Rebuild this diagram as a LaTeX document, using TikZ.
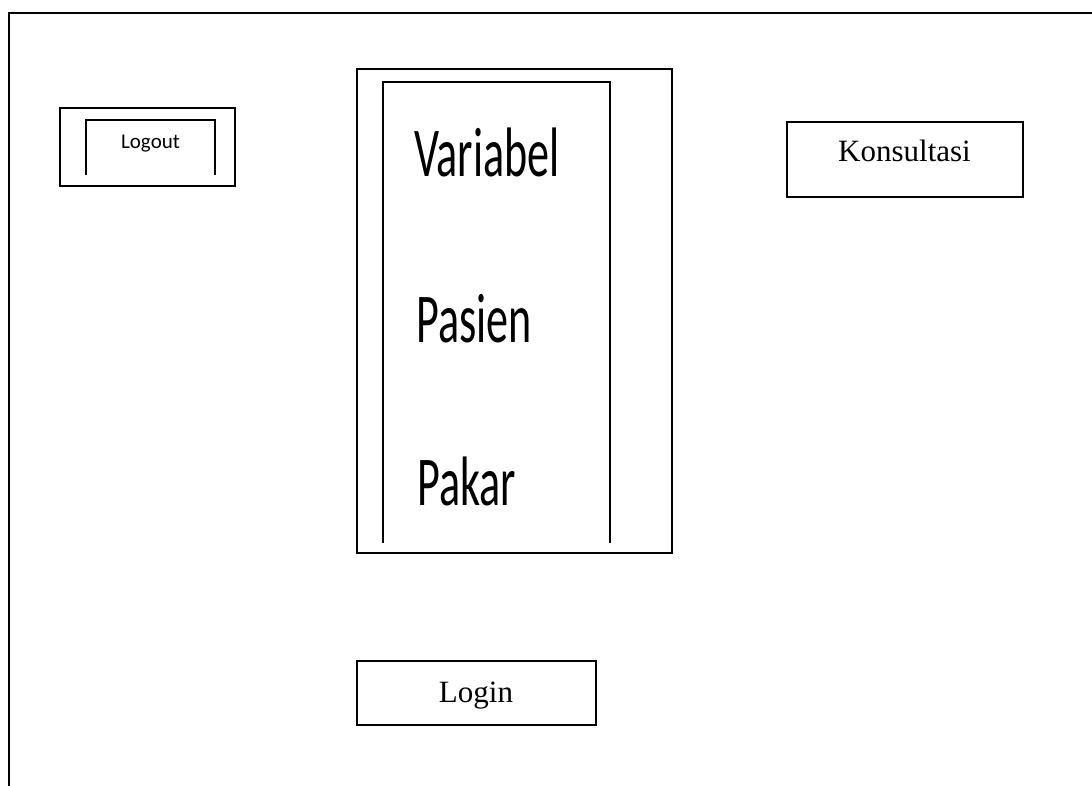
\documentclass[tikz,border=0pt]{standalone}
\usepackage{fontspec}
\usepackage{graphicx}
\setmainfont{Liberation Serif}
\newfontfamily\calibri{Carlito}
\begin{document}
\begin{tikzpicture}[x=1pt,y=-1pt,
  frame/.style={line width=1.8pt},
  panel/.style={draw,line width=1.6pt,inner sep=0pt,minimum width=#1},
  openbox/.style={line width=1.6pt,line cap=butt},
  serif label/.style={anchor=base,inner sep=0pt,font=\fontsize{31}{31}\selectfont},
  menu item/.style={anchor=base west,inner sep=0pt,font=\calibri\fontsize{70}{70}\selectfont}]
\useasboundingbox (0,0) rectangle (1092,786);
% page frame, open at the right and bottom
\coordinate (fb) at (9,786);
\coordinate (ftl) at (9,13);
\coordinate (fr) at (1092,13);
\draw[frame] (fb) -- (ftl) -- (fr);

% Logout button
\node[panel=175pt,minimum height=78pt] (logoutbox) at (147.5,147) {};
\coordinate (lo1) at (86,175);
\coordinate (lo2) at (86,120);
\coordinate (lo3) at (215,120);
\coordinate (lo4) at (215,175);
\draw[openbox,line width=1.3pt] (lo1) -- (lo2) -- (lo3) -- (lo4);
\node[anchor=base,inner sep=0pt,font=\calibri\fontsize{21}{21}\selectfont] (logout) at (150.5,149) {Logout};

% menu panel
\node[panel=315pt,minimum height=484pt] (menubox) at (514.5,311) {};
\coordinate (m1) at (383,543);
\coordinate (m2) at (383,82);
\coordinate (m3) at (610,82);
\coordinate (m4) at (610,543);
\draw[openbox] (m1) -- (m2) -- (m3) -- (m4);
\node[menu item] (variabel) at (414,177) {\scalebox{0.63}[1]{Variabel}};
\node[menu item] (pasien) at (416,342) {\scalebox{0.63}[1]{Pasien}};
\node[menu item] (pakar) at (417,505) {\scalebox{0.63}[1]{Pakar}};

% Konsultasi button
\node[panel=236pt,minimum height=75pt] (konsbox) at (905,159.5) {};
\node[serif label] (kons) at (904.5,162) {Konsultasi};

% Login button
\node[panel=239pt,minimum height=64pt] (loginbox) at (476.5,693) {};
\node[serif label] (login) at (476,702) {Login};
\end{tikzpicture}
\end{document}
